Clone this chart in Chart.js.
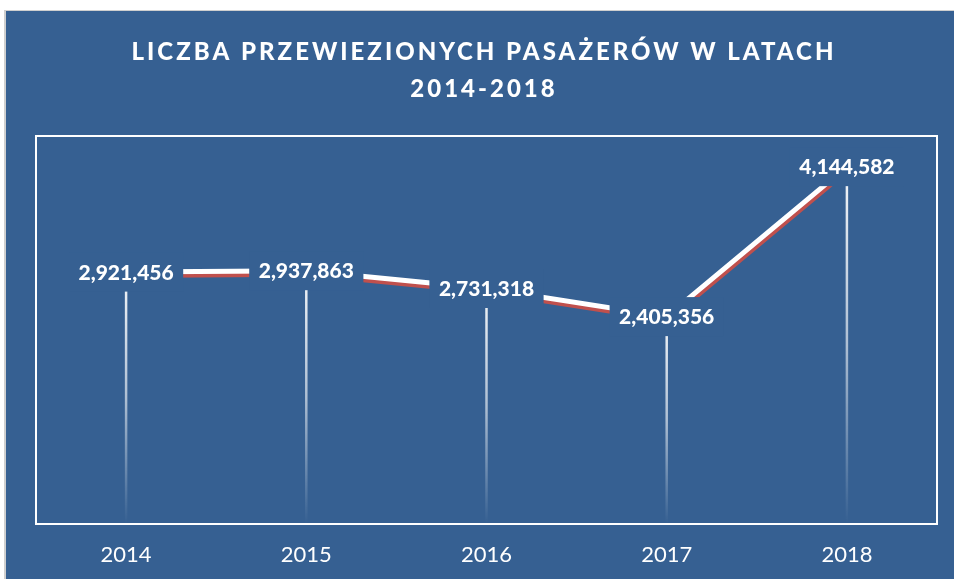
<!DOCTYPE html>
<html>
<head>
<meta charset="utf-8">
<script src="https://cdn.jsdelivr.net/npm/chart.js@4.4.1/dist/chart.umd.min.js"></script>
<style>
  body { margin: 0; background: #fff; }
  #panel {
    position: absolute; left: 4px; top: 10px; width: 950px; height: 569px;
    background: #366092; border-top: 1px solid #cfcfcf; border-left: 2px solid #cfcfcf;
  }
  #chart { display: block; }
</style>
</head>
<body>
<div id="panel"><canvas id="chart" width="948" height="568"></canvas></div>
<script>
const years = ['2014', '2015', '2016', '2017', '2018'];
const passengers = [2921456, 2937863, 2731318, 2405356, 4144582];
const titleLines = ['LICZBA PRZEWIEZIONYCH PASAŻERÓW W LATACH', '2014-2018'];

const PANEL = '#366092';

// title with letter spacing (Chart.js title can't do that)
const titlePlugin = {
    id: 'spacedTitle',
    beforeDraw(chart) {
        const c = chart.ctx;
        c.save();
        c.fillStyle = '#fff';
        c.font = '900 24px Lato';
        c.letterSpacing = '3px';
        c.textAlign = 'center';
        c.textBaseline = 'alphabetic';
        c.fillText(titleLines[0], chart.width / 2 + 4, 48.5);
        c.fillText(titleLines[1], chart.width / 2 + 4, 86);
        c.restore();
    }
};

// fading drop lines from each point down to the axis
const dropLines = {
    id: 'dropLines',
    beforeDatasetsDraw(chart) {
        const c = chart.ctx;
        const bottom = chart.chartArea.bottom;
        chart.getDatasetMeta(0).data.forEach(pt => {
            const g = c.createLinearGradient(0, pt.y, 0, bottom);
            g.addColorStop(0, 'rgba(255,255,255,0.95)');
            g.addColorStop(0.5, 'rgba(255,255,255,0.6)');
            g.addColorStop(1, 'rgba(255,255,255,0)');
            c.save();
            c.strokeStyle = g;
            c.lineWidth = 2.5;
            c.beginPath();
            c.moveTo(pt.x, pt.y);
            c.lineTo(pt.x, bottom);
            c.stroke();
            c.restore();
        });
    }
};

// red shadow under the white line
const lineShadow = {
    id: 'lineShadow',
    beforeDatasetDraw(chart) {
        const c = chart.ctx;
        c.save();
        c.shadowColor = '#c0504d';
        c.shadowOffsetX = 1;
        c.shadowOffsetY = 3.5;
        c.shadowBlur = 0;
    },
    afterDatasetDraw(chart) {
        chart.ctx.restore();
    }
};

// value labels on a panel-coloured box, plus the plot frame
const valueLabels = {
    id: 'valueLabels',
    afterDatasetsDraw(chart) {
        const c = chart.ctx;
        c.save();
        c.font = '900 21px Lato';
        c.textAlign = 'center';
        c.textBaseline = 'middle';
        chart.getDatasetMeta(0).data.forEach((pt, i) => {
            const txt = passengers[i].toLocaleString('en-US');
            const w = c.measureText(txt).width;
            c.fillStyle = PANEL;
            c.fillRect(pt.x - w / 2 - 9.5, pt.y - 19.5, w + 19, 39);
            c.fillStyle = '#fff';
            c.fillText(txt, pt.x, pt.y + 1);
        });
        const a = chart.chartArea;
        c.strokeStyle = '#fff';
        c.lineWidth = 2;
        c.strokeRect(a.left, a.top, a.right - a.left, a.bottom - a.top);
        c.restore();
    }
};

new Chart(document.getElementById('chart'), {
    type: 'line',
    data: {
        labels: years,
        datasets: [{
            data: passengers,
            borderColor: '#fff',
            borderWidth: 5,
            pointRadius: 0,
            tension: 0,
            fill: false
        }]
    },
    options: {
        responsive: false,
        animation: false,
        layout: { padding: { left: 30, right: 17, top: 125, bottom: 0 } },
        plugins: {
            legend: { display: false },
            title: { display: false },
            tooltip: { enabled: false }
        },
        scales: {
            x: {
                offset: true,
                grid: { display: false, drawTicks: false },
                border: { display: false },
                ticks: { color: '#fff', font: { family: 'Lato', size: 22 }, padding: 18 },
                afterFit: (s) => { s.height = 55; }
            },
            y: {
                display: false,
                min: 0,
                max: 4500000
            }
        }
    },
    plugins: [titlePlugin, dropLines, lineShadow, valueLabels]
});
</script>
</body>
</html>
